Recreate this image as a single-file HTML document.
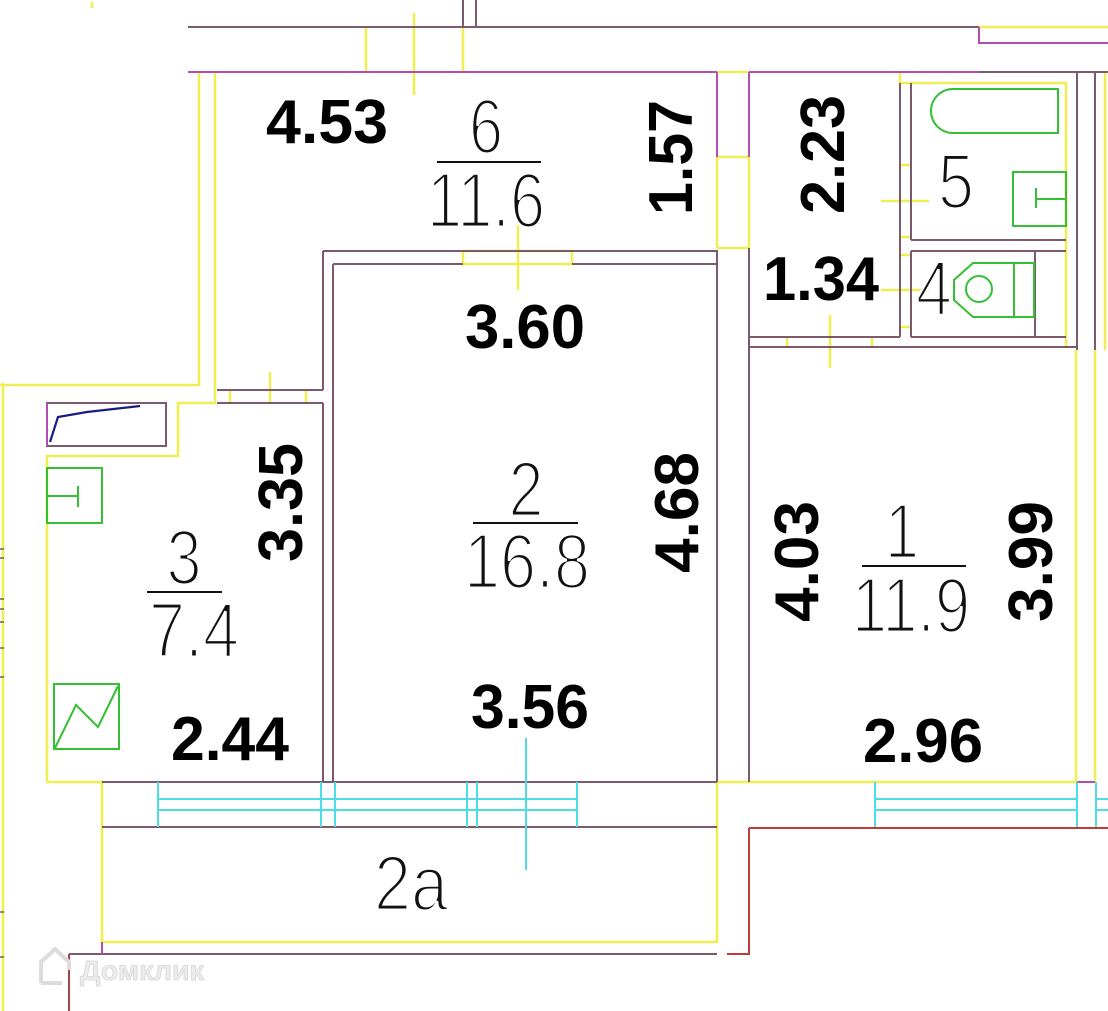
<!DOCTYPE html>
<html><head><meta charset="utf-8"><style>
html,body{margin:0;padding:0;background:#fff;}
svg{display:block}
.b{stroke:#7a5a6c;stroke-width:2;fill:none}
.m{stroke:#b44cb4;stroke-width:2;fill:none}
.y{stroke:#f0ee55;stroke-width:2.6;fill:none}
.c{stroke:#4edde6;stroke-width:2;fill:none}
.g{stroke:#34c034;stroke-width:2;fill:none}
.r{stroke:#c03a3a;stroke-width:2;fill:none}
.bd{font-family:"Liberation Sans",Arial,sans-serif;font-weight:bold;font-size:62px;fill:#000}
.th{font-family:"Liberation Sans",Arial,sans-serif;font-weight:normal;font-size:78px;fill:#111;stroke:#fff;stroke-width:3;text-anchor:middle}
</style></head><body>
<svg width="1108" height="1011" viewBox="0 0 1108 1011" xmlns="http://www.w3.org/2000/svg">
<rect width="1108" height="1011" fill="#fff"/>

<!-- yellow lines -->
<g class="y">
<path d="M979 27 H1108"/>
<path d="M366 27 V72 M414 13 V95 M463 27 V72"/>
<path d="M717 72 H749 M717 157 H749 M717 248 H749 M717 157 V248 M749 157 V248"/>
<path d="M199 72 V385 H0"/>
<path d="M215 72 V403 H178 V456 H47 V782 H102 V942 H717 V782 H1077"/>
<path d="M3 383 V1011"/>
<path d="M463 251 H572 V264 H463 Z"/>
<path d="M518 225 V290"/>
<path d="M230 390 V403 M270 372 V403 M306 390 V403"/>
<path d="M900 72 V83 H1066 V348"/>
<path d="M1105 72 V350"/>
<path d="M1076 350 V782 M1095 350 V782"/>
<path d="M900 165 H911 M900 237 H911 M900 255 H911 M900 327 H911"/>
<path d="M881 201 H929 M881 290 H929"/>
<path d="M787 337 V347 M872 337 V347 M830 315 V368"/>
<path d="M92 2 V8"/>
</g>

<!-- brown wall lines -->
<g class="b">
<path d="M188 27 H979"/>
<path d="M463 0 V27 M476 0 V27"/>
<path d="M323 251 H717"/>
<path d="M333 264 H463 M572 264 H717"/>
<path d="M323 251 V390 M217 390 H323 M217 403 H323 M323 403 V782 M333 264 V782"/>
<path d="M717 250 V782 M749 248 V782"/>
<path d="M102 782 H717 M102 827 H717"/>
<path d="M467 782 V790 M477 782 V790"/>
<path d="M749 337 H900 M749 347 H1077 M911 337 H1066"/>
<path d="M900 83 V337 M911 83 V240 M911 251 V337 M911 240 H1066 M911 251 H1066 M1035 251 V337"/>
<path d="M1077 72 V350 M1095 72 V350"/>
<path d="M69 954 H717"/>
<path d="M979 72 H1108"/>
<rect x="47" y="403" width="119" height="43"/>
</g>

<!-- magenta -->
<g class="m">
<path d="M188 72 H717 M749 72 H979"/>
<path d="M717 72 V157 M749 72 V157"/>
<path d="M979 27 V43 H1108"/>
<path d="M1077 782 H1095"/>
<path d="M102 942 V954"/>
<path d="M47 403 V446"/>
</g>

<!-- cyan windows -->
<g class="c">
<path d="M158 782 V827 M321 782 V827 M335 782 V827 M467 782 V827 M477 782 V827 M577 782 V827"/>
<path d="M158 799 H577 M158 810 H577"/>
<path d="M526 738 V870"/>
<path d="M875 782 V827 M1077 782 V827 M1096 782 V827"/>
<path d="M875 799 H1077 M875 810 H1077 M1096 799 H1108 M1096 810 H1108"/>
</g>

<!-- red -->
<g class="r">
<path d="M749 828 H1108 M749 828 V954 H727"/>
<path d="M69 954 V1011" stroke="#a04848"/>
</g>

<!-- fixtures -->
<polyline points="50,442 58,417 87,412 140,406" fill="none" stroke="#1c1c80" stroke-width="2.2"/>
<g class="g">
<rect x="47" y="468" width="55" height="55"/>
<path d="M47 496 H78 M78 486 V507"/>
<rect x="54" y="684" width="65" height="65"/>
<polyline points="55,748 76,705 98,727 118,686"/>
<path d="M1058 89 H953 A22 22 0 0 0 953 133 H1058 Z"/>
<rect x="1013" y="172" width="53" height="54"/>
<path d="M1036 199 H1066 M1036 188 V208"/>
<path d="M1034 263 H973 L954 280 V300 L973 317 H1034 Z"/>
<path d="M1014 263 V317"/>
<circle cx="979" cy="289" r="13"/>
</g>

<!-- left edge ticks -->
<g stroke="#666" stroke-width="1.5">
<path d="M0 549 H4 M0 558 H4 M0 599 H4 M0 609 H4 M0 622 H4 M0 648 H4 M0 677 H4 M0 912 H4 M0 957 H4"/>
</g>

<!-- fraction lines -->
<g stroke="#111" stroke-width="2">
<path d="M437 162 H541"/>
<path d="M473 523 H578"/>
<path d="M147 592 H222"/>
<path d="M862 566 H966"/>
</g>

<!-- thin room labels -->
<text class="th" x="486" y="153" textLength="34" lengthAdjust="spacingAndGlyphs">6</text>
<text class="th" x="486" y="227" textLength="118" lengthAdjust="spacingAndGlyphs">11.6</text>
<text class="th" x="956" y="208" textLength="36" lengthAdjust="spacingAndGlyphs">5</text>
<text class="th" x="934" y="315" textLength="36" lengthAdjust="spacingAndGlyphs">4</text>
<text class="th" x="526" y="516" textLength="35" lengthAdjust="spacingAndGlyphs">2</text>
<text class="th" x="527" y="588" textLength="126" lengthAdjust="spacingAndGlyphs">16.8</text>
<text class="th" x="184" y="584" textLength="35" lengthAdjust="spacingAndGlyphs">3</text>
<text class="th" x="194" y="657" textLength="90" lengthAdjust="spacingAndGlyphs">7.4</text>
<text class="th" x="902" y="558" textLength="34" lengthAdjust="spacingAndGlyphs">1</text>
<text class="th" x="911" y="632" textLength="118" lengthAdjust="spacingAndGlyphs">11.9</text>
<text class="th" x="411" y="910" textLength="74" lengthAdjust="spacingAndGlyphs">2a</text>

<!-- bold dimensions -->
<text class="bd" x="266" y="143" textLength="122" lengthAdjust="spacingAndGlyphs">4.53</text>
<text class="bd" x="465" y="348" textLength="120" lengthAdjust="spacingAndGlyphs">3.60</text>
<text class="bd" x="763" y="300" textLength="116" lengthAdjust="spacingAndGlyphs">1.34</text>
<text class="bd" x="171" y="760" textLength="118" lengthAdjust="spacingAndGlyphs">2.44</text>
<text class="bd" x="471" y="728" textLength="118" lengthAdjust="spacingAndGlyphs">3.56</text>
<text class="bd" x="863" y="762" textLength="120" lengthAdjust="spacingAndGlyphs">2.96</text>

<text class="bd" transform="translate(692,215) rotate(-90)" textLength="115" lengthAdjust="spacingAndGlyphs">1.57</text>
<text class="bd" transform="translate(844,214) rotate(-90)" textLength="119" lengthAdjust="spacingAndGlyphs">2.23</text>
<text class="bd" transform="translate(302,562) rotate(-90)" textLength="119" lengthAdjust="spacingAndGlyphs">3.35</text>
<text class="bd" transform="translate(698,573) rotate(-90)" textLength="121" lengthAdjust="spacingAndGlyphs">4.68</text>
<text class="bd" transform="translate(818,622) rotate(-90)" textLength="121" lengthAdjust="spacingAndGlyphs">4.03</text>
<text class="bd" transform="translate(1052,622) rotate(-90)" textLength="121" lengthAdjust="spacingAndGlyphs">3.99</text>

<!-- watermark -->
<g fill="none" stroke="#dcdcdc" stroke-width="4" stroke-linejoin="round">
<path d="M41 983 V962 L55 949 L69 962 V970 M41 983 H62"/>
</g>
<text x="80" y="980" font-family="Liberation Sans, Arial, sans-serif" font-weight="bold" font-size="28" fill="#ececec" stroke="#d6d6d6" stroke-width="0.8" textLength="124" lengthAdjust="spacingAndGlyphs">Домклик</text>
</svg>
</body></html>
